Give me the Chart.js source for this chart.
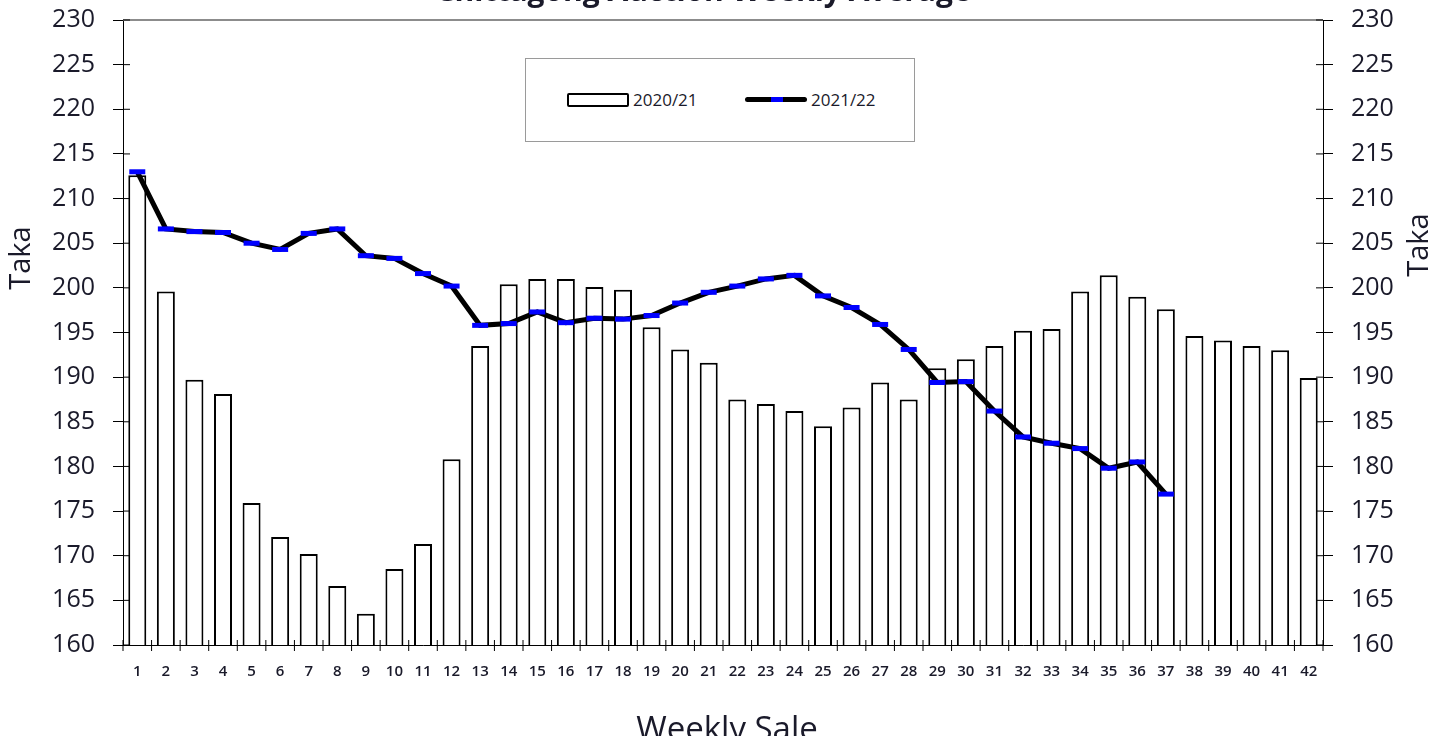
<!DOCTYPE html>
<html>
<head>
<meta charset="utf-8">
<script src="https://cdn.jsdelivr.net/npm/chart.js@4"></script>
<style>
  html, body { margin: 0; padding: 0; background: #fff; }
  #wrap { position: relative; width: 1448px; height: 736px; overflow: hidden; }
  #legend {
    position: absolute; left: 525px; top: 58px; width: 388px; height: 82px;
    border: 1px solid #9a9a9a; background: #fff;
    font-family: "Open Sans", sans-serif; font-size: 17px; color: #1a1a2a;
  }
  .item { position: absolute; top: 29px; display: flex; align-items: center; }
  .barsw { width: 58px; height: 10px; border: 2px solid #000; border-radius: 2px; margin-right: 4px; }
  .linesw { position: relative; width: 62px; height: 5px; background: #000; border-radius: 3px; margin-right: 4px; }
  .linesw span { position: absolute; left: 26px; width: 12px; height: 5px; background: #0000ff; }
</style>
</head>
<body>
<div id="wrap">
  <canvas id="teaChart" width="1448" height="736"></canvas>
  <div id="legend"></div>
</div>
<script>
const weeks = ['1','2','3','4','5','6','7','8','9','10','11','12','13','14','15','16','17','18','19','20','21',
               '22','23','24','25','26','27','28','29','30','31','32','33','34','35','36','37','38','39','40','41','42'];

const season2021 = [212.6, 199.6, 189.7, 188.1, 175.9, 172.1, 170.2, 166.6, 163.5, 168.5, 171.3, 180.8, 193.5, 200.4,
                    201.0, 201.0, 200.1, 199.8, 195.6, 193.1, 191.6, 187.5, 187.0, 186.2, 184.5, 186.6, 189.4, 187.5,
                    191.0, 192.0, 193.5, 195.2, 195.4, 199.6, 201.4, 199.0, 197.6, 194.6, 194.1, 193.5, 193.0, 189.9];

const season2122 = [213.0, 206.6, 206.3, 206.2, 205.0, 204.3, 206.1, 206.6, 203.6, 203.3, 201.6, 200.2, 195.8, 196.0,
                    197.3, 196.1, 196.6, 196.5, 196.9, 198.3, 199.5, 200.2, 201.0, 201.4, 199.1, 197.8, 195.9, 193.1,
                    189.4, 189.5, 186.2, 183.3, 182.6, 182.0, 179.8, 180.5, 176.9];

const yTicks = [160, 165, 170, 175, 180, 185, 190, 195, 200, 205, 210, 215, 220, 225, 230];

const font = '"Open Sans", sans-serif';

// clipped title, axis titles, grey top frame and the ticks that cross into the plot
const extras = {
  id: 'extras',
  afterDraw(chart) {
    const c = chart.ctx, a = chart.chartArea;
    c.save();
    c.strokeStyle = '#8c8c8c';
    c.lineWidth = 2;
    c.beginPath(); c.moveTo(a.left, a.top); c.lineTo(a.right, a.top); c.stroke();
    c.strokeStyle = '#000';
    c.lineWidth = 1;
    c.beginPath();
    yTicks.forEach(v => {
      const y = chart.scales.y.getPixelForValue(v);
      c.moveTo(a.left, y); c.lineTo(a.left + 7, y);
      c.moveTo(a.right - 7, y); c.lineTo(a.right, y);
    });
    const xs = chart.scales.x;
    for (let i = 0; i <= weeks.length; i++) {
      const x = xs.left + i * (xs.width / weeks.length);
      c.moveTo(x, a.bottom - 5); c.lineTo(x, a.bottom + 6);
    }
    c.stroke();

    c.fillStyle = '#1a1a2a';
    c.textAlign = 'center';
    c.textBaseline = 'alphabetic';
    c.font = 'bold 30px ' + font;
    c.fillText('Chittagong Auction Weekly Average', 703, 1);
    c.font = '33px ' + font;
    c.fillText('Weekly Sale', 727, 740);

    c.textBaseline = 'middle';
    c.font = '29px ' + font;
    [[22, 258], [1420, 245]].forEach(([x, y]) => {
      c.save();
      c.translate(x, y);
      c.rotate(-Math.PI / 2);
      c.fillText('Taka', 0, 0);
      c.restore();
    });
    c.restore();
  }
};

const noPad = s => { s.paddingTop = 0; s.paddingBottom = 0; };

const chart = new Chart(document.getElementById('teaChart'), {
  type: 'bar',
  data: {
    labels: weeks,
    datasets: [
      {
        type: 'line',
        label: '2021/22',
        data: season2122,
        borderColor: '#000',
        borderWidth: 5,
        tension: 0,
        pointStyle: 'line',
        pointRadius: 8,
        pointBorderColor: '#0000ff',
        pointBorderWidth: 5,
        pointBackgroundColor: '#0000ff',
        order: 0
      },
      {
        label: '2020/21',
        data: season2021,
        backgroundColor: '#fff',
        borderColor: '#000',
        borderWidth: 2,
        barPercentage: 0.63,
        categoryPercentage: 1,
        order: 1
      }
    ]
  },
  options: {
    responsive: false,
    animation: false,
    layout: { padding: { top: 20, left: 0, right: 0, bottom: 0 } },
    plugins: {
      legend: { display: false },
      tooltip: { enabled: false }
    },
    scales: {
      x: {
        grid: { display: false, drawOnChartArea: false },
        border: { color: '#000', width: 1 },
        ticks: { color: '#1a1a2a', font: { family: font, size: 15, weight: '600' }, padding: 10, maxRotation: 0, autoSkip: false },
        afterFit: s => { s.height = 91; s.paddingLeft = 0; s.paddingRight = 0; }
      },
      y: {
        min: 160, max: 230,
        position: 'left',
        grid: { drawOnChartArea: false, tickLength: 10, color: '#000' },
        border: { color: '#000', width: 1 },
        ticks: { stepSize: 5, color: '#1a1a2a', font: { family: font, size: 25 }, padding: 18 },
        afterFit: s => { s.width = 123; noPad(s); }
      },
      y2: {
        min: 160, max: 230,
        position: 'right',
        grid: { drawOnChartArea: false, tickLength: 10, color: '#000' },
        border: { color: '#000', width: 1 },
        ticks: { stepSize: 5, color: '#1a1a2a', font: { family: font, size: 25 }, padding: 18 },
        afterFit: s => { s.width = 125; noPad(s); }
      }
    }
  },
  plugins: [extras]
});

// legend built from the datasets
const legend = document.getElementById('legend');
const barSet = chart.data.datasets[1], lineSet = chart.data.datasets[0];
legend.innerHTML =
  '<div class="item" style="left:41px"><div class="barsw"></div>' + barSet.label + '</div>' +
  '<div class="item" style="left:219px"><div class="linesw"><span></span></div>' + lineSet.label + '</div>';
</script>
</body>
</html>
